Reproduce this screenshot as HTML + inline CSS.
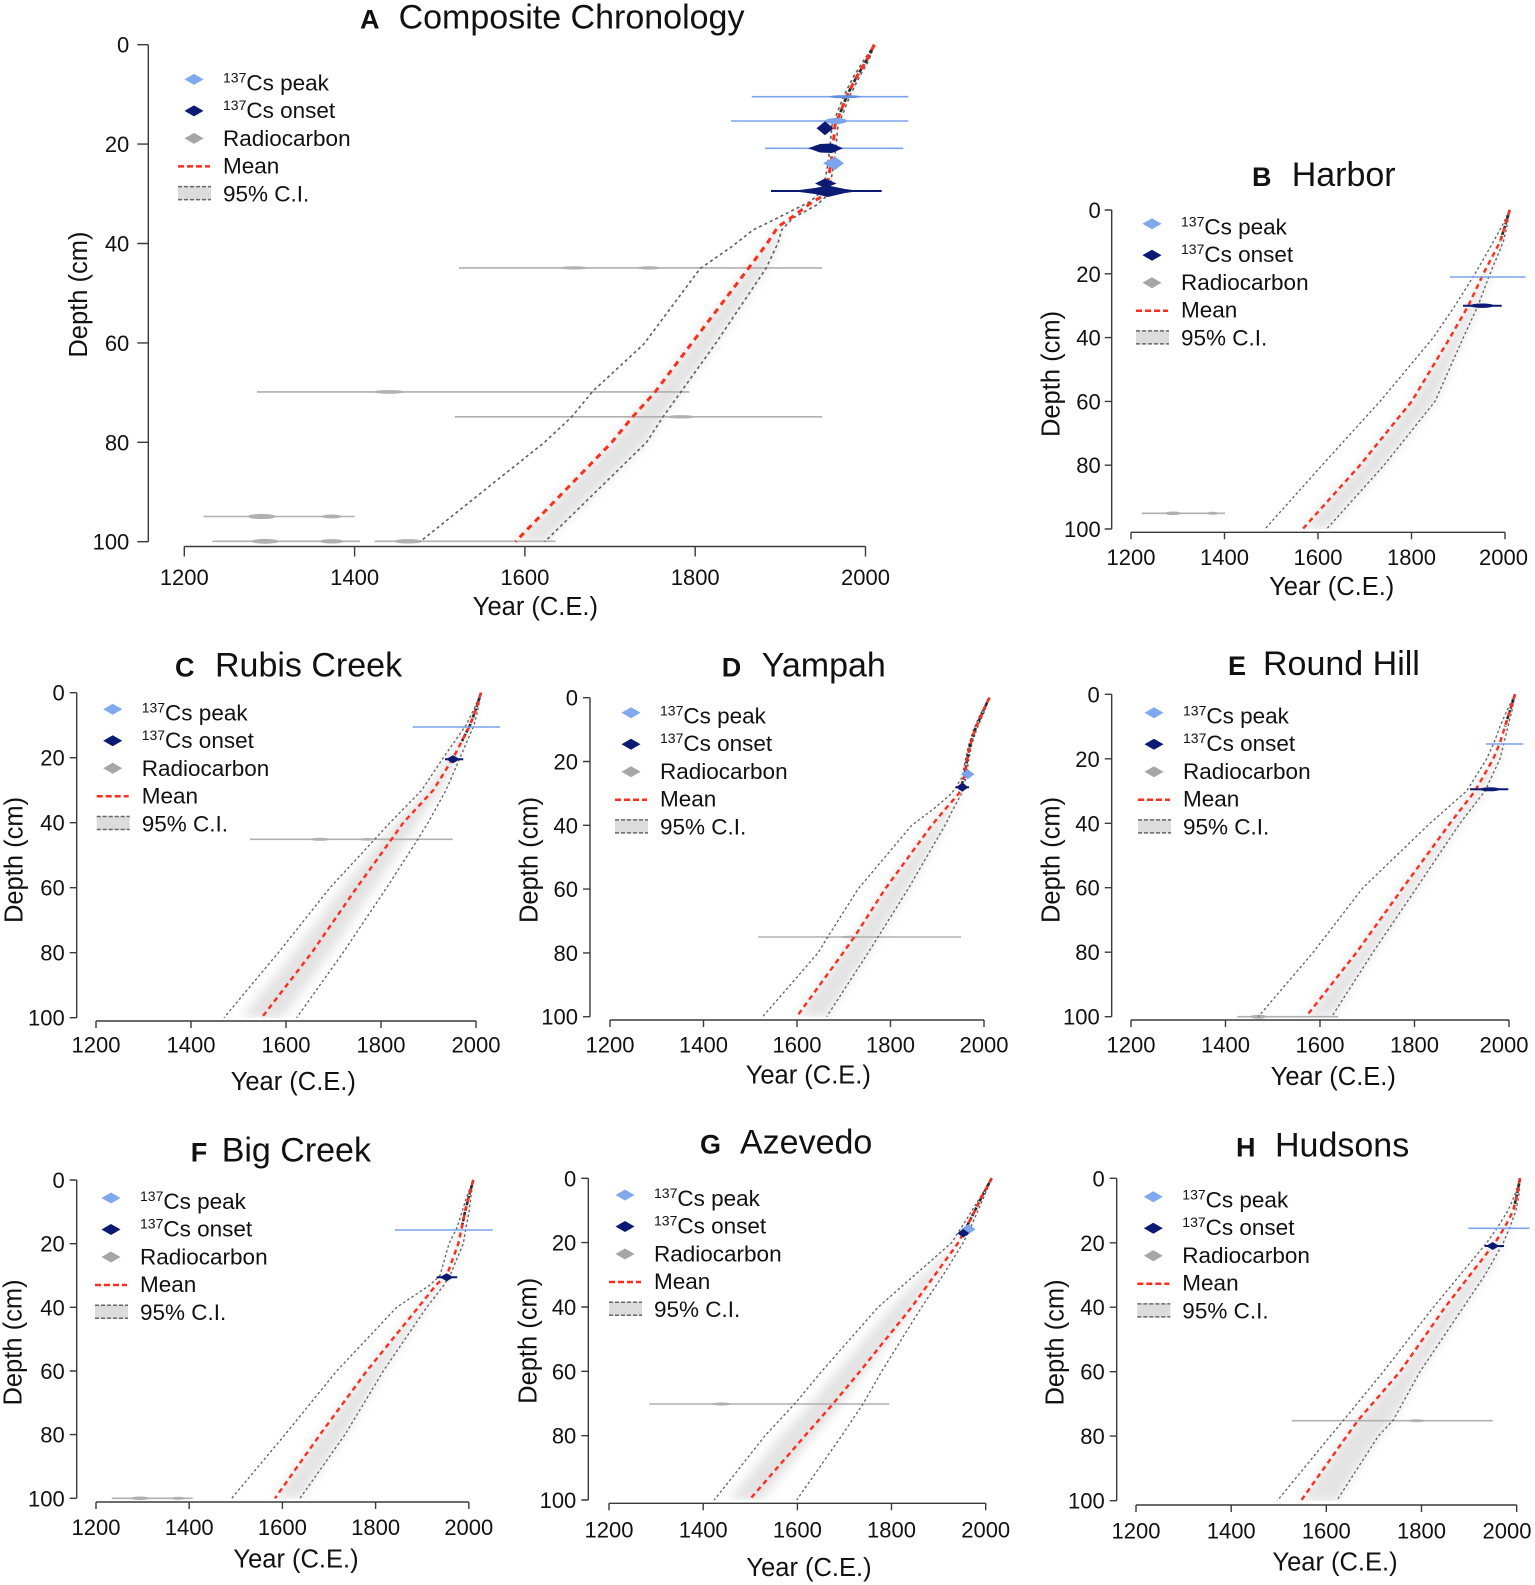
<!DOCTYPE html>
<html><head><meta charset="utf-8"><style>
html,body{margin:0;padding:0;background:#fff}
svg{display:block}
text{font-family:"Liberation Sans",Arial,sans-serif;fill:#111}
.tk{font-size:22px}
.tkA{font-size:22px}
.lab{font-size:25.5px}
.ttl{font-size:34px}
.let{font-size:27px;font-weight:bold}
.lg{font-size:22.5px}
.ax{stroke:#3a3a3a;stroke-width:1.4;fill:none}
.mean{stroke:#ff2d1c;stroke-width:2.4;stroke-dasharray:5 4;fill:none}
.meanA{stroke:#ff2d1c;stroke-width:3;stroke-dasharray:6 5;fill:none}
.ci{stroke:#5e5e5e;stroke-width:1.3;stroke-dasharray:2.5 2.5;fill:none}
.ciA{stroke:#5e5e5e;stroke-width:1.6;stroke-dasharray:3 3;fill:none}
.sh{fill:#e3e3e3;filter:url(#bl)}
.rc{stroke:#b0b0b0;stroke-width:1.6}
.pk{stroke:#7ba4ec;stroke-width:1.6}
.on{stroke:#0b1a72;stroke-width:2}
.dk{stroke:#2a2a2a;stroke-width:2.6;fill:none;stroke-dasharray:4 1.5}
</style></head><body>
<svg width="1535" height="1585" viewBox="0 0 1535 1585" xmlns="http://www.w3.org/2000/svg">
<defs>
<filter id="bl" filterUnits="userSpaceOnUse" x="0" y="0" width="1535" height="1585"><feGaussianBlur stdDeviation="5"/></filter>
<clipPath id="cA"><rect x="150" y="40" width="800" height="502"/></clipPath>
<clipPath id="cB"><rect x="1113" y="205" width="422" height="324"/></clipPath>
<clipPath id="cC"><rect x="78" y="688" width="430" height="330"/></clipPath>
<clipPath id="cD"><rect x="591" y="693" width="430" height="324"/></clipPath>
<clipPath id="cE"><rect x="1113" y="690" width="422" height="327"/></clipPath>
<clipPath id="cF"><rect x="78" y="1175" width="430" height="324"/></clipPath>
<clipPath id="cG"><rect x="590" y="1174" width="430" height="326"/></clipPath>
<clipPath id="cH"><rect x="1118" y="1174" width="417" height="327"/></clipPath>
</defs>
<rect width="1535" height="1585" fill="#fff"/>

<!-- ================= PANEL A ================= -->
<g clip-path="url(#cA)">
<polygon class="sh" points="874.3,44.7 866.7,60 856.7,76.7 847.5,94.4 840,113.3 835,125 833,146.7 831,163.3 828,180 826,193.8 810,203.7 788,220 778,226.7 767,243.5 748.4,268.4 692,342.9 654.6,392.6 632,417.5 611.8,442.3 515.4,541.7 544.7,541.7 646.5,442.3 662.6,417.5 716,342.9 766,268.4 778,243 781.7,230 793,218 816.7,205 829,193.8 831,180 834,163.3 836,146.7 838,125 843,113.3 850.5,94.4 859.5,76.7 869,60"/>
</g>
<!-- radiocarbon A -->
<line class="rc" x1="459" y1="267.9" x2="822.2" y2="267.9"/>
<ellipse cx="574" cy="267.9" rx="14" ry="1.6" fill="#b0b0b0"/>
<ellipse cx="649" cy="267.9" rx="12" ry="1.6" fill="#b0b0b0"/>
<line class="rc" x1="257" y1="391.9" x2="689.4" y2="391.9"/>
<ellipse cx="389" cy="391.9" rx="16" ry="1.8" fill="#b0b0b0"/>
<line class="rc" x1="454.8" y1="416.8" x2="822.2" y2="416.8"/>
<ellipse cx="681" cy="416.8" rx="14" ry="1.7" fill="#b0b0b0"/>
<line class="rc" x1="203.5" y1="516.5" x2="354.8" y2="516.5"/>
<ellipse cx="261.7" cy="516.5" rx="14" ry="2.6" fill="#b0b0b0"/>
<ellipse cx="331.7" cy="516.5" rx="10" ry="2" fill="#b0b0b0"/>
<line class="rc" x1="212.5" y1="541.3" x2="360" y2="541.3"/>
<ellipse cx="265" cy="541.3" rx="14" ry="2.4" fill="#b0b0b0"/>
<ellipse cx="331.7" cy="541.3" rx="12" ry="2.2" fill="#b0b0b0"/>
<line class="rc" x1="374.4" y1="541.3" x2="555.5" y2="541.3"/>
<ellipse cx="408" cy="541.3" rx="14" ry="2.2" fill="#b0b0b0"/>
<!-- CI / mean A -->
<polyline class="ciA" points="874.3,44.7 864,60 853.5,76.7 844.5,94.4 837,113.3 832,125 830,146.7 828,163.3 825,180 822,191 810,201.7 790,211.7 770,221.7 753,230 731.7,246.7 700,268.7 643.9,344 593,391 571.6,417 544.8,442 420,541.7"/>
<polyline class="ciA" points="874.3,44.7 869,60 859.5,76.7 850.5,94.4 843,113.3 838,125 836,146.7 834,163.3 831,180 829,193.8 816.7,205 793,218 781.7,230 778,243 766,268.4 716,342.9 662.6,417.5 646.5,442.3 544.7,541.7"/>
<polyline class="dk" points="874.3,44.7 866.7,60 856.7,76.7 847.5,94.4 840,113.3"/>
<polyline class="meanA" points="874.3,44.7 866.7,60 856.7,76.7 847.5,94.4 840,113.3 835,125 833,146.7 831,163.3 828,180 826,193.8 810,203.7 788,220 778,226.7 767,243.5 748.4,268.4 692,342.9 654.6,392.6 632,417.5 611.8,442.3 515.4,541.7"/>
<!-- Cs A -->
<line class="pk" x1="751.7" y1="96.7" x2="908.3" y2="96.7"/>
<ellipse cx="845" cy="96.7" rx="16" ry="1.6" fill="#5f8ee0"/>
<line class="pk" x1="731" y1="121" x2="908.3" y2="121"/>
<ellipse cx="836" cy="121" rx="11" ry="3" fill="#7ba4ec"/>
<polygon points="816.5,128.3 825,121.3 833.5,128.3 825,135.3" fill="#0b1a72"/>
<line class="pk" x1="765" y1="148.3" x2="903.3" y2="148.3"/>
<polygon points="808,148.3 820,144 832,143.5 843,148.3 832,153 820,152.5" fill="#0b1a72"/>
<polygon points="823,163.3 835,156.7 844,163.3 835,170" fill="#7ba4ec"/>
<polygon points="815,183.5 825,178.5 836.7,183.5 825,188" fill="#0b1a72"/>
<line class="on" x1="771" y1="191" x2="881.7" y2="191"/>
<polygon points="791.7,191 815,188 828,185.5 845,189 860,191 845,193 828,197 815,194" fill="#0b1a72"/>
<!-- axes A -->
<path class="ax" d="M148.3,44.7V541.7M137.3,44.7H148.3M137.3,144.1H148.3M137.3,243.5H148.3M137.3,342.9H148.3M137.3,442.3H148.3M137.3,541.7H148.3"/>
<path class="ax" d="M184.3,546.5H865.5M184.3,546.5V556.5M354.6,546.5V556.5M524.9,546.5V556.5M695.2,546.5V556.5M865.5,546.5V556.5"/>
<g class="tkA" text-anchor="end">
<text x="129.3" y="52.7">0</text><text x="129.3" y="152.1">20</text><text x="129.3" y="251.5">40</text><text x="129.3" y="350.9">60</text><text x="129.3" y="450.3">80</text><text x="129.3" y="549.7">100</text>
</g>
<g class="tkA" text-anchor="middle">
<text x="184.3" y="585">1200</text><text x="354.6" y="585">1400</text><text x="524.9" y="585">1600</text><text x="695.2" y="585">1800</text><text x="865.5" y="585">2000</text>
</g>
<text class="lab" x="535.4" y="615" text-anchor="middle">Year (C.E.)</text>
<text class="lab" transform="translate(87,294.6) rotate(-90)" text-anchor="middle">Depth (cm)</text>
<text class="let" x="360" y="28.5">A</text><text class="ttl" x="398.6" y="28.5">Composite Chronology</text>
<g transform="translate(194,138.4)">
<polygon points="-9.5,-59 0,-64.5 9.5,-59 0,-53.5" fill="#80a8ec"/>
<polygon points="-9.5,-27.5 0,-33 9.5,-27.5 0,-22" fill="#0b1a72"/>
<polygon points="-9.5,0 0,-5.5 9.5,0 0,5.5" fill="#a6a6a6"/>
<line x1="-16" y1="28" x2="16" y2="28" stroke="#ff2d1c" stroke-width="2.5" stroke-dasharray="6 3"/>
<rect x="-16" y="47.7" width="33" height="14" fill="#dcdcdc"/>
<line x1="-16" y1="48.2" x2="17" y2="48.2" stroke="#666" stroke-width="1.5" stroke-dasharray="4 2"/>
<line x1="-16" y1="61.2" x2="17" y2="61.2" stroke="#666" stroke-width="1.5" stroke-dasharray="4 2"/>
<text class="lg" x="29" y="-48"><tspan font-size="14" dy="-8">137</tspan><tspan dy="8">Cs peak</tspan></text>
<text class="lg" x="29" y="-20.5"><tspan font-size="14" dy="-8">137</tspan><tspan dy="8">Cs onset</tspan></text>
<text class="lg" x="29" y="7.5">Radiocarbon</text>
<text class="lg" x="29" y="35">Mean</text>
<text class="lg" x="29" y="63">95% C.I.</text>
</g>

<!-- ================= PANEL B ================= -->
<g clip-path="url(#cB)">
<polygon class="sh" points="1509.7,210 1505,226 1500,241.9 1483.3,273.8 1468.3,305.7 1450,337.6 1411.7,401.4 1360,465.2 1302.7,529 1326.7,529 1384,465.2 1435,401.4 1463.3,337.6 1478,305.7 1490,273.8 1503.3,241.9 1507,226"/>
</g>
<line class="rc" x1="1141.7" y1="513.3" x2="1225" y2="513.3"/>
<ellipse cx="1173" cy="513.3" rx="8" ry="1.8" fill="#b0b0b0"/>
<ellipse cx="1212.8" cy="513.3" rx="6" ry="1.5" fill="#b0b0b0"/>
<polyline class="ci" points="1509.7,210 1502,226 1493.3,241.9 1475,273.8 1455,305.7 1433.3,337.6 1380,401.4 1322,465.2 1265,529"/>
<polyline class="ci" points="1509.7,210 1507,226 1503.3,241.9 1490,273.8 1478,305.7 1463.3,337.6 1435,401.4 1384,465.2 1326.7,529"/>
<polyline class="dk" points="1509.7,210 1505,226 1500,241.9"/>
<polyline class="mean" points="1509.7,210 1505,226 1500,241.9 1483.3,273.8 1468.3,305.7 1450,337.6 1411.7,401.4 1360,465.2 1302.7,529"/>
<line class="pk" x1="1450" y1="277" x2="1525.7" y2="277"/>
<line class="on" x1="1463" y1="305.7" x2="1501.7" y2="305.7"/>
<ellipse cx="1482" cy="305.7" rx="12" ry="2.2" fill="#0b1a72"/>
<path class="ax" d="M1111.7,210V529M1104.7,210H1111.7M1104.7,273.8H1111.7M1104.7,337.6H1111.7M1104.7,401.4H1111.7M1104.7,465.2H1111.7M1104.7,529H1111.7"/>
<path class="ax" d="M1131,532.3H1505M1131,532.3V539.3M1224.5,532.3V539.3M1318,532.3V539.3M1411.5,532.3V539.3M1505,532.3V539.3"/>
<g class="tk" text-anchor="end">
<text x="1100.7" y="218">0</text><text x="1100.7" y="281.8">20</text><text x="1100.7" y="345.6">40</text><text x="1100.7" y="409.4">60</text><text x="1100.7" y="473.2">80</text><text x="1100.7" y="537">100</text>
</g>
<g class="tk" text-anchor="middle">
<text x="1131" y="565">1200</text><text x="1224.5" y="565">1400</text><text x="1318" y="565">1600</text><text x="1411.5" y="565">1800</text><text x="1503.5" y="565">2000</text>
</g>
<text class="lab" x="1331.7" y="595" text-anchor="middle">Year (C.E.)</text>
<text class="lab" transform="translate(1059.5,374) rotate(-90)" text-anchor="middle">Depth (cm)</text>
<text class="let" x="1252" y="186">B</text><text class="ttl" x="1291.7" y="186">Harbor</text>
<g transform="translate(1152,282.7)">
<polygon points="-9.5,-59 0,-64.5 9.5,-59 0,-53.5" fill="#80a8ec"/>
<polygon points="-9.5,-27.5 0,-33 9.5,-27.5 0,-22" fill="#0b1a72"/>
<polygon points="-9.5,0 0,-5.5 9.5,0 0,5.5" fill="#a6a6a6"/>
<line x1="-16" y1="28" x2="16" y2="28" stroke="#ff2d1c" stroke-width="2.5" stroke-dasharray="6 3"/>
<rect x="-16" y="47.7" width="33" height="14" fill="#dcdcdc"/>
<line x1="-16" y1="48.2" x2="17" y2="48.2" stroke="#666" stroke-width="1.5" stroke-dasharray="4 2"/>
<line x1="-16" y1="61.2" x2="17" y2="61.2" stroke="#666" stroke-width="1.5" stroke-dasharray="4 2"/>
<text class="lg" x="29" y="-48"><tspan font-size="14" dy="-8">137</tspan><tspan dy="8">Cs peak</tspan></text>
<text class="lg" x="29" y="-20.5"><tspan font-size="14" dy="-8">137</tspan><tspan dy="8">Cs onset</tspan></text>
<text class="lg" x="29" y="7.5">Radiocarbon</text>
<text class="lg" x="29" y="35">Mean</text>
<text class="lg" x="29" y="63">95% C.I.</text>
</g>

<!-- ================= PANEL C ================= -->
<g clip-path="url(#cC)">
<polygon class="sh" points="481,692.7 472.4,725.2 457.3,757.7 440.9,790.2 418.1,822.7 407.5,839 374.7,887.7 330.4,952.7 282.7,1017.7 241.1,1017.7 293.3,952.7 342,887.7 382.5,839 396,822.7 426.9,790.2 447.8,757.7 467.8,725.2"/>
</g>
<line class="rc" x1="250" y1="839.3" x2="452.7" y2="839.3"/>
<ellipse cx="320" cy="839.3" rx="10" ry="1.5" fill="#b0b0b0"/>
<ellipse cx="367" cy="839.3" rx="8" ry="1.3" fill="#b0b0b0"/>
<polyline class="ci" points="481,692.7 474,709 466,725.2 443.3,757.7 421.7,790.2 390,822.7 375,839 330,887.7 278.3,952.7 224,1017.7"/>
<polyline class="ci" points="481,692.7 478,709 474,725.2 460,757.7 446,790.2 428,822.7 418,839 386.7,887.7 343,952.7 296.7,1017.7"/>
<polyline class="dk" points="481,692.7 476,709 470,725.2 462,741"/>
<polyline class="mean" points="481,692.7 476,709 470,725.2 453.3,757.7 433.3,790.2 403.3,822.7 391.7,839 356.7,887.7 311.7,952.7 261.7,1017.7"/>
<line class="pk" x1="412.7" y1="727" x2="500" y2="727"/>
<line class="on" x1="445" y1="759.3" x2="463.3" y2="759.3"/>
<polygon points="446,759.3 453,755.3 460,759.3 453,763.3" fill="#0b1a72"/>
<path class="ax" d="M76.7,692.7V1017.7M69.7,692.7H76.7M69.7,757.7H76.7M69.7,822.7H76.7M69.7,887.7H76.7M69.7,952.7H76.7M69.7,1017.7H76.7"/>
<path class="ax" d="M96,1021H476M96,1021V1028M191,1021V1028M286,1021V1028M381,1021V1028M476,1021V1028"/>
<g class="tk" text-anchor="end">
<text x="64.7" y="700.7">0</text><text x="64.7" y="765.7">20</text><text x="64.7" y="830.7">40</text><text x="64.7" y="895.7">60</text><text x="64.7" y="960.7">80</text><text x="64.7" y="1025.7">100</text>
</g>
<g class="tk" text-anchor="middle">
<text x="96" y="1052.7">1200</text><text x="191" y="1052.7">1400</text><text x="286" y="1052.7">1600</text><text x="381" y="1052.7">1800</text><text x="476" y="1052.7">2000</text>
</g>
<text class="lab" x="293.3" y="1090" text-anchor="middle">Year (C.E.)</text>
<text class="lab" transform="translate(22.7,860) rotate(-90)" text-anchor="middle">Depth (cm)</text>
<text class="let" x="175" y="676.7">C</text><text class="ttl" x="215" y="676.7">Rubis Creek</text>
<g transform="translate(112.7,768.3)">
<polygon points="-9.5,-59 0,-64.5 9.5,-59 0,-53.5" fill="#80a8ec"/>
<polygon points="-9.5,-27.5 0,-33 9.5,-27.5 0,-22" fill="#0b1a72"/>
<polygon points="-9.5,0 0,-5.5 9.5,0 0,5.5" fill="#a6a6a6"/>
<line x1="-16" y1="28" x2="16" y2="28" stroke="#ff2d1c" stroke-width="2.5" stroke-dasharray="6 3"/>
<rect x="-16" y="47.7" width="33" height="14" fill="#dcdcdc"/>
<line x1="-16" y1="48.2" x2="17" y2="48.2" stroke="#666" stroke-width="1.5" stroke-dasharray="4 2"/>
<line x1="-16" y1="61.2" x2="17" y2="61.2" stroke="#666" stroke-width="1.5" stroke-dasharray="4 2"/>
<text class="lg" x="29" y="-48"><tspan font-size="14" dy="-8">137</tspan><tspan dy="8">Cs peak</tspan></text>
<text class="lg" x="29" y="-20.5"><tspan font-size="14" dy="-8">137</tspan><tspan dy="8">Cs onset</tspan></text>
<text class="lg" x="29" y="7.5">Radiocarbon</text>
<text class="lg" x="29" y="35">Mean</text>
<text class="lg" x="29" y="63">95% C.I.</text>
</g>

<!-- ================= PANEL D ================= -->
<g clip-path="url(#cD)">
<polygon class="sh" points="989.3,697.7 982,713.7 975,729.6 970,745.6 966.7,761.5 964,777.5 959,793.4 945,809.4 931.7,825.3 885,889.1 854.3,937 843,952.9 796.7,1016.7 826.7,1016.7 868,952.9 878,937 908,889.1 945,825.3 953,809.4 961.7,793.4 966,777.5 968.5,761.5 971.5,745.6 976.5,729.6 983.5,713.7"/>
</g>
<line class="rc" x1="758.3" y1="937" x2="961" y2="937"/>
<ellipse cx="850" cy="937" rx="10" ry="1.3" fill="#b0b0b0"/>
<polyline class="ci" points="989.3,697.7 980.5,713.7 973.5,729.6 968.5,745.6 965,761.5 962,777.5 951.7,793.4 933,809.4 911.7,825.3 858,889.1 827.7,937 818,952.9 762.7,1016.7"/>
<polyline class="ci" points="989.3,697.7 983.5,713.7 976.5,729.6 971.5,745.6 968.5,761.5 966,777.5 961.7,793.4 953,809.4 945,825.3 908,889.1 878,937 868,952.9 826.7,1016.7"/>
<polyline class="dk" points="989.3,697.7 982,713.7 975,729.6 970,745.6 966.7,761.5 964,777.5 960,790"/>
<polyline class="mean" points="989.3,697.7 982,713.7 975,729.6 970,745.6 966.7,761.5 964,777.5 959,793.4 945,809.4 931.7,825.3 885,889.1 854.3,937 843,952.9 796.7,1016.7"/>
<polygon points="961,774.3 967.7,769.3 974.4,774.3 967.7,779.3" fill="#7ba4ec"/>
<line class="on" x1="956" y1="787.3" x2="969" y2="787.3"/>
<polygon points="956,787.3 962.3,782.8 968.6,787.3 962.3,791.8" fill="#0b1a72"/>
<path class="ax" d="M590,697.7V1016.7M583,697.7H590M583,761.5H590M583,825.3H590M583,889.1H590M583,952.9H590M583,1016.7H590"/>
<path class="ax" d="M610,1020H984M610,1020V1027M703.5,1020V1027M797,1020V1027M890.5,1020V1027M984,1020V1027"/>
<g class="tk" text-anchor="end">
<text x="578" y="705.7">0</text><text x="578" y="769.5">20</text><text x="578" y="833.3">40</text><text x="578" y="897.1">60</text><text x="578" y="960.9">80</text><text x="578" y="1024.7">100</text>
</g>
<g class="tk" text-anchor="middle">
<text x="610" y="1052.7">1200</text><text x="703.5" y="1052.7">1400</text><text x="797" y="1052.7">1600</text><text x="890.5" y="1052.7">1800</text><text x="984" y="1052.7">2000</text>
</g>
<text class="lab" x="808.3" y="1083.3" text-anchor="middle">Year (C.E.)</text>
<text class="lab" transform="translate(537.7,860) rotate(-90)" text-anchor="middle">Depth (cm)</text>
<text class="let" x="721.7" y="676.7">D</text><text class="ttl" x="761.7" y="676.7">Yampah</text>
<g transform="translate(631,771.7)">
<polygon points="-9.5,-59 0,-64.5 9.5,-59 0,-53.5" fill="#80a8ec"/>
<polygon points="-9.5,-27.5 0,-33 9.5,-27.5 0,-22" fill="#0b1a72"/>
<polygon points="-9.5,0 0,-5.5 9.5,0 0,5.5" fill="#a6a6a6"/>
<line x1="-16" y1="28" x2="16" y2="28" stroke="#ff2d1c" stroke-width="2.5" stroke-dasharray="6 3"/>
<rect x="-16" y="47.7" width="33" height="14" fill="#dcdcdc"/>
<line x1="-16" y1="48.2" x2="17" y2="48.2" stroke="#666" stroke-width="1.5" stroke-dasharray="4 2"/>
<line x1="-16" y1="61.2" x2="17" y2="61.2" stroke="#666" stroke-width="1.5" stroke-dasharray="4 2"/>
<text class="lg" x="29" y="-48"><tspan font-size="14" dy="-8">137</tspan><tspan dy="8">Cs peak</tspan></text>
<text class="lg" x="29" y="-20.5"><tspan font-size="14" dy="-8">137</tspan><tspan dy="8">Cs onset</tspan></text>
<text class="lg" x="29" y="7.5">Radiocarbon</text>
<text class="lg" x="29" y="35">Mean</text>
<text class="lg" x="29" y="63">95% C.I.</text>
</g>

<!-- ================= PANEL E ================= -->
<g clip-path="url(#cE)">
<polygon class="sh" points="1515,694.3 1510,710.4 1505,726.5 1500,742.7 1493.3,758.8 1475,791 1450,823.3 1403,887.7 1356.7,952.2 1306,1016.7 1331.7,1016.7 1373,952.2 1416.7,887.7 1460,823.3 1485,791 1500,758.8 1504,742.7 1508,726.5 1512,710.4"/>
</g>
<line class="rc" x1="1237.3" y1="1016.7" x2="1338.3" y2="1016.7"/>
<ellipse cx="1258.5" cy="1016.7" rx="8" ry="2" fill="#b0b0b0"/>
<polyline class="ci" points="1515,694.3 1507,710.4 1500,726.5 1494,742.7 1486.7,758.8 1466.7,791 1430,823.3 1363,887.7 1313.3,952.2 1258.3,1016.7"/>
<polyline class="ci" points="1515,694.3 1512,710.4 1508,726.5 1504,742.7 1500,758.8 1485,791 1460,823.3 1416.7,887.7 1373,952.2 1331.7,1016.7"/>
<polyline class="dk" points="1515,694.3 1510,710.4 1505,726.5"/>
<polyline class="mean" points="1515,694.3 1510,710.4 1505,726.5 1500,742.7 1493.3,758.8 1475,791 1450,823.3 1403,887.7 1356.7,952.2 1306,1016.7"/>
<line class="pk" x1="1486" y1="744" x2="1523.3" y2="744"/>
<line class="on" x1="1470" y1="789.3" x2="1508.3" y2="789.3"/>
<ellipse cx="1490" cy="789.3" rx="10" ry="2" fill="#0b1a72"/>
<path class="ax" d="M1111.7,694.3V1016.7M1104.7,694.3H1111.7M1104.7,758.8H1111.7M1104.7,823.3H1111.7M1104.7,887.7H1111.7M1104.7,952.2H1111.7M1104.7,1016.7H1111.7"/>
<path class="ax" d="M1131,1020H1509M1131,1020V1027M1225.5,1020V1027M1320,1020V1027M1414.5,1020V1027M1509,1020V1027"/>
<g class="tk" text-anchor="end">
<text x="1099.7" y="702.3">0</text><text x="1099.7" y="766.8">20</text><text x="1099.7" y="831.3">40</text><text x="1099.7" y="895.7">60</text><text x="1099.7" y="960.2">80</text><text x="1099.7" y="1024.7">100</text>
</g>
<g class="tk" text-anchor="middle">
<text x="1131" y="1052.7">1200</text><text x="1225.5" y="1052.7">1400</text><text x="1320" y="1052.7">1600</text><text x="1414.5" y="1052.7">1800</text><text x="1504" y="1052.7">2000</text>
</g>
<text class="lab" x="1333.3" y="1085" text-anchor="middle">Year (C.E.)</text>
<text class="lab" transform="translate(1059.3,860) rotate(-90)" text-anchor="middle">Depth (cm)</text>
<text class="let" x="1228" y="675">E</text><text class="ttl" x="1263" y="675">Round Hill</text>
<g transform="translate(1154,771.7)">
<polygon points="-9.5,-59 0,-64.5 9.5,-59 0,-53.5" fill="#80a8ec"/>
<polygon points="-9.5,-27.5 0,-33 9.5,-27.5 0,-22" fill="#0b1a72"/>
<polygon points="-9.5,0 0,-5.5 9.5,0 0,5.5" fill="#a6a6a6"/>
<line x1="-16" y1="28" x2="16" y2="28" stroke="#ff2d1c" stroke-width="2.5" stroke-dasharray="6 3"/>
<rect x="-16" y="47.7" width="33" height="14" fill="#dcdcdc"/>
<line x1="-16" y1="48.2" x2="17" y2="48.2" stroke="#666" stroke-width="1.5" stroke-dasharray="4 2"/>
<line x1="-16" y1="61.2" x2="17" y2="61.2" stroke="#666" stroke-width="1.5" stroke-dasharray="4 2"/>
<text class="lg" x="29" y="-48"><tspan font-size="14" dy="-8">137</tspan><tspan dy="8">Cs peak</tspan></text>
<text class="lg" x="29" y="-20.5"><tspan font-size="14" dy="-8">137</tspan><tspan dy="8">Cs onset</tspan></text>
<text class="lg" x="29" y="7.5">Radiocarbon</text>
<text class="lg" x="29" y="35">Mean</text>
<text class="lg" x="29" y="63">95% C.I.</text>
</g>

<!-- ================= PANEL F ================= -->
<g clip-path="url(#cF)">
<polygon class="sh" points="473.3,1180 469,1195.9 465,1211.8 461.7,1227.7 458.3,1243.7 446.7,1275.5 436,1285 418.3,1307.3 366.7,1371 320,1434.6 275,1498.3 300,1498.3 345,1434.6 383.3,1371 426.7,1307.3 444,1285 450,1275.5 463.3,1243.7 466,1227.7 469,1211.8 471,1195.9"/>
</g>
<line class="rc" x1="111.7" y1="1498.3" x2="192.7" y2="1498.3"/>
<ellipse cx="140" cy="1498.3" rx="9" ry="1.8" fill="#b0b0b0"/>
<ellipse cx="178.3" cy="1498.3" rx="7" ry="1.6" fill="#b0b0b0"/>
<polyline class="ci" points="473.3,1180 467,1195.9 462,1211.8 457,1227.7 449,1243.7 440,1275.5 430,1285 396.7,1307.3 336.7,1371 285,1434.6 231.7,1498.3"/>
<polyline class="ci" points="473.3,1180 471,1195.9 469,1211.8 466,1227.7 463.3,1243.7 450,1275.5 444,1285 426.7,1307.3 383.3,1371 345,1434.6 300,1498.3"/>
<polyline class="dk" points="473.3,1180 469,1195.9 465,1211.8 461.7,1227.7"/>
<polyline class="mean" points="473.3,1180 469,1195.9 465,1211.8 461.7,1227.7 458.3,1243.7 446.7,1275.5 436,1285 418.3,1307.3 366.7,1371 320,1434.6 275,1498.3"/>
<line class="pk" x1="395" y1="1230" x2="492.7" y2="1230"/>
<line class="on" x1="436.7" y1="1277.3" x2="457.3" y2="1277.3"/>
<polygon points="439.7,1277.3 446.7,1273.3 453.7,1277.3 446.7,1281.3" fill="#0b1a72"/>
<path class="ax" d="M76.7,1180V1498.3M69.7,1180H76.7M69.7,1243.7H76.7M69.7,1307.3H76.7M69.7,1371H76.7M69.7,1434.6H76.7M69.7,1498.3H76.7"/>
<path class="ax" d="M96,1502H468.8M96,1502V1509M189.2,1502V1509M282.4,1502V1509M375.6,1502V1509M468.8,1502V1509"/>
<g class="tk" text-anchor="end">
<text x="64.7" y="1188">0</text><text x="64.7" y="1251.7">20</text><text x="64.7" y="1315.3">40</text><text x="64.7" y="1379">60</text><text x="64.7" y="1442.6">80</text><text x="64.7" y="1506.3">100</text>
</g>
<g class="tk" text-anchor="middle">
<text x="96" y="1535">1200</text><text x="189.2" y="1535">1400</text><text x="282.4" y="1535">1600</text><text x="375.6" y="1535">1800</text><text x="468.8" y="1535">2000</text>
</g>
<text class="lab" x="296" y="1567.3" text-anchor="middle">Year (C.E.)</text>
<text class="lab" transform="translate(21.7,1342.5) rotate(-90)" text-anchor="middle">Depth (cm)</text>
<text class="let" x="190.7" y="1161.7">F</text><text class="ttl" x="221.7" y="1161.7">Big Creek</text>
<g transform="translate(111,1257)">
<polygon points="-9.5,-59 0,-64.5 9.5,-59 0,-53.5" fill="#80a8ec"/>
<polygon points="-9.5,-27.5 0,-33 9.5,-27.5 0,-22" fill="#0b1a72"/>
<polygon points="-9.5,0 0,-5.5 9.5,0 0,5.5" fill="#a6a6a6"/>
<line x1="-16" y1="28" x2="16" y2="28" stroke="#ff2d1c" stroke-width="2.5" stroke-dasharray="6 3"/>
<rect x="-16" y="47.7" width="33" height="14" fill="#dcdcdc"/>
<line x1="-16" y1="48.2" x2="17" y2="48.2" stroke="#666" stroke-width="1.5" stroke-dasharray="4 2"/>
<line x1="-16" y1="61.2" x2="17" y2="61.2" stroke="#666" stroke-width="1.5" stroke-dasharray="4 2"/>
<text class="lg" x="29" y="-48"><tspan font-size="14" dy="-8">137</tspan><tspan dy="8">Cs peak</tspan></text>
<text class="lg" x="29" y="-20.5"><tspan font-size="14" dy="-8">137</tspan><tspan dy="8">Cs onset</tspan></text>
<text class="lg" x="29" y="7.5">Radiocarbon</text>
<text class="lg" x="29" y="35">Mean</text>
<text class="lg" x="29" y="63">95% C.I.</text>
</g>

<!-- ================= PANEL G ================= -->
<g clip-path="url(#cG)">
<polygon class="sh" points="991.7,1178.3 982.4,1194.4 973.2,1210.5 963.9,1226.6 954.3,1242.6 923,1274.8 891.7,1307 837,1371.3 810.5,1403.5 781,1435.7 728.3,1500 761.2,1500 814.2,1435.7 840.8,1403.5 865.4,1371.3 914.2,1307 937.1,1274.8 959.6,1242.6 967.8,1226.6 975.8,1210.5 983.5,1194.4"/>
</g>
<line class="rc" x1="649" y1="1404" x2="889" y2="1404"/>
<ellipse cx="721.7" cy="1404" rx="10" ry="1.5" fill="#b0b0b0"/>
<polyline class="ci" points="991.7,1178.3 982,1194.4 972,1210.5 962,1226.6 951.7,1242.6 915,1274.8 878.3,1307 821.7,1371.3 795,1403.5 765,1435.7 714.3,1500"/>
<polyline class="ci" points="991.7,1178.3 985,1194.4 978,1210.5 971,1226.6 963.3,1242.6 943.3,1274.8 921.7,1307 881.7,1371.3 863.3,1403.5 841.7,1435.7 796.7,1500"/>
<polyline class="dk" points="991.7,1178.3 983,1194.4 975,1210.5 966.7,1226.6"/>
<polyline class="mean" points="991.7,1178.3 983,1194.4 975,1210.5 966.7,1226.6 958.3,1242.6 935,1274.8 911.7,1307 860,1371.3 833.3,1403.5 805,1435.7 749.3,1500"/>
<polygon points="961,1229.3 968.3,1224.3 975.6,1229.3 968.3,1234.3" fill="#7ba4ec"/>
<polygon points="957.3,1233.3 963.3,1229 969.3,1233.3 963.3,1237.6" fill="#0b1a72"/>
<path class="ax" d="M588.3,1178.3V1500M581.3,1178.3H588.3M581.3,1242.6H588.3M581.3,1307H588.3M581.3,1371.3H588.3M581.3,1435.7H588.3M581.3,1500H588.3"/>
<path class="ax" d="M609,1503.3H985.7M609,1503.3V1510.3M703.2,1503.3V1510.3M797.4,1503.3V1510.3M891.5,1503.3V1510.3M985.7,1503.3V1510.3"/>
<g class="tk" text-anchor="end">
<text x="576.3" y="1186.3">0</text><text x="576.3" y="1250.6">20</text><text x="576.3" y="1315">40</text><text x="576.3" y="1379.3">60</text><text x="576.3" y="1443.7">80</text><text x="576.3" y="1508">100</text>
</g>
<g class="tk" text-anchor="middle">
<text x="609" y="1537.3">1200</text><text x="703.2" y="1537.3">1400</text><text x="797.4" y="1537.3">1600</text><text x="891.5" y="1537.3">1800</text><text x="985.7" y="1537.3">2000</text>
</g>
<text class="lab" x="809" y="1576" text-anchor="middle">Year (C.E.)</text>
<text class="lab" transform="translate(536.7,1340.8) rotate(-90)" text-anchor="middle">Depth (cm)</text>
<text class="let" x="700" y="1153.3">G</text><text class="ttl" x="740" y="1153.3">Azevedo</text>
<g transform="translate(625,1254)">
<polygon points="-9.5,-59 0,-64.5 9.5,-59 0,-53.5" fill="#80a8ec"/>
<polygon points="-9.5,-27.5 0,-33 9.5,-27.5 0,-22" fill="#0b1a72"/>
<polygon points="-9.5,0 0,-5.5 9.5,0 0,5.5" fill="#a6a6a6"/>
<line x1="-16" y1="28" x2="16" y2="28" stroke="#ff2d1c" stroke-width="2.5" stroke-dasharray="6 3"/>
<rect x="-16" y="47.7" width="33" height="14" fill="#dcdcdc"/>
<line x1="-16" y1="48.2" x2="17" y2="48.2" stroke="#666" stroke-width="1.5" stroke-dasharray="4 2"/>
<line x1="-16" y1="61.2" x2="17" y2="61.2" stroke="#666" stroke-width="1.5" stroke-dasharray="4 2"/>
<text class="lg" x="29" y="-48"><tspan font-size="14" dy="-8">137</tspan><tspan dy="8">Cs peak</tspan></text>
<text class="lg" x="29" y="-20.5"><tspan font-size="14" dy="-8">137</tspan><tspan dy="8">Cs onset</tspan></text>
<text class="lg" x="29" y="7.5">Radiocarbon</text>
<text class="lg" x="29" y="35">Mean</text>
<text class="lg" x="29" y="63">95% C.I.</text>
</g>

<!-- ================= PANEL H ================= -->
<g clip-path="url(#cH)">
<polygon class="sh" points="1520,1178.3 1517,1194.4 1513.3,1210.5 1505,1226.7 1495,1242.8 1470,1275 1445,1307.3 1400,1371.7 1358.3,1420 1346.7,1436.1 1301,1500.7 1336.7,1500.7 1378.3,1436.1 1393.3,1420 1420,1371.7 1463.3,1307.3 1485,1275 1503.3,1242.8 1510,1226.7 1516,1210.5 1519,1194.4"/>
</g>
<line class="rc" x1="1291.7" y1="1420.7" x2="1492.7" y2="1420.7"/>
<ellipse cx="1416.7" cy="1420.7" rx="9" ry="1.4" fill="#b0b0b0"/>
<polyline class="ci" points="1520,1178.3 1515,1194.4 1508,1210.5 1498,1226.7 1486.7,1242.8 1460,1275 1433.3,1307.3 1383.3,1371.7 1343.7,1420 1330.3,1436.1 1277.3,1500.7"/>
<polyline class="ci" points="1520,1178.3 1519,1194.4 1516,1210.5 1510,1226.7 1503.3,1242.8 1485,1275 1463.3,1307.3 1420,1371.7 1393.3,1420 1378.3,1436.1 1336.7,1500.7"/>
<polyline class="dk" points="1520,1178.3 1517,1194.4 1513.3,1210.5"/>
<polyline class="mean" points="1520,1178.3 1517,1194.4 1513.3,1210.5 1505,1226.7 1495,1242.8 1470,1275 1445,1307.3 1400,1371.7 1358.3,1420 1346.7,1436.1 1301,1500.7"/>
<line class="pk" x1="1468.3" y1="1228.3" x2="1529.3" y2="1228.3"/>
<line class="on" x1="1485" y1="1246" x2="1504" y2="1246"/>
<polygon points="1486,1246 1492.7,1242 1499.4,1246 1492.7,1250" fill="#0b1a72"/>
<path class="ax" d="M1116.7,1178.3V1500.7M1109.7,1178.3H1116.7M1109.7,1242.8H1116.7M1109.7,1307.2H1116.7M1109.7,1371.7H1116.7M1109.7,1436.1H1116.7M1109.7,1500.7H1116.7"/>
<path class="ax" d="M1136,1505H1516.7M1136,1505V1512M1231.2,1505V1512M1326.3,1505V1512M1421.5,1505V1512M1516.7,1505V1512"/>
<g class="tk" text-anchor="end">
<text x="1104.7" y="1186.3">0</text><text x="1104.7" y="1250.8">20</text><text x="1104.7" y="1315.2">40</text><text x="1104.7" y="1379.7">60</text><text x="1104.7" y="1444.1">80</text><text x="1104.7" y="1508.7">100</text>
</g>
<g class="tk" text-anchor="middle">
<text x="1136" y="1538.3">1200</text><text x="1231.2" y="1538.3">1400</text><text x="1326.3" y="1538.3">1600</text><text x="1421.5" y="1538.3">1800</text><text x="1507" y="1538.3">2000</text>
</g>
<text class="lab" x="1335" y="1570.7" text-anchor="middle">Year (C.E.)</text>
<text class="lab" transform="translate(1063.3,1342.5) rotate(-90)" text-anchor="middle">Depth (cm)</text>
<text class="let" x="1236" y="1156.7">H</text><text class="ttl" x="1275" y="1156.7">Hudsons</text>
<g transform="translate(1153.3,1255.7)">
<polygon points="-9.5,-59 0,-64.5 9.5,-59 0,-53.5" fill="#80a8ec"/>
<polygon points="-9.5,-27.5 0,-33 9.5,-27.5 0,-22" fill="#0b1a72"/>
<polygon points="-9.5,0 0,-5.5 9.5,0 0,5.5" fill="#a6a6a6"/>
<line x1="-16" y1="28" x2="16" y2="28" stroke="#ff2d1c" stroke-width="2.5" stroke-dasharray="6 3"/>
<rect x="-16" y="47.7" width="33" height="14" fill="#dcdcdc"/>
<line x1="-16" y1="48.2" x2="17" y2="48.2" stroke="#666" stroke-width="1.5" stroke-dasharray="4 2"/>
<line x1="-16" y1="61.2" x2="17" y2="61.2" stroke="#666" stroke-width="1.5" stroke-dasharray="4 2"/>
<text class="lg" x="29" y="-48"><tspan font-size="14" dy="-8">137</tspan><tspan dy="8">Cs peak</tspan></text>
<text class="lg" x="29" y="-20.5"><tspan font-size="14" dy="-8">137</tspan><tspan dy="8">Cs onset</tspan></text>
<text class="lg" x="29" y="7.5">Radiocarbon</text>
<text class="lg" x="29" y="35">Mean</text>
<text class="lg" x="29" y="63">95% C.I.</text>
</g>
</svg>
</body></html>
